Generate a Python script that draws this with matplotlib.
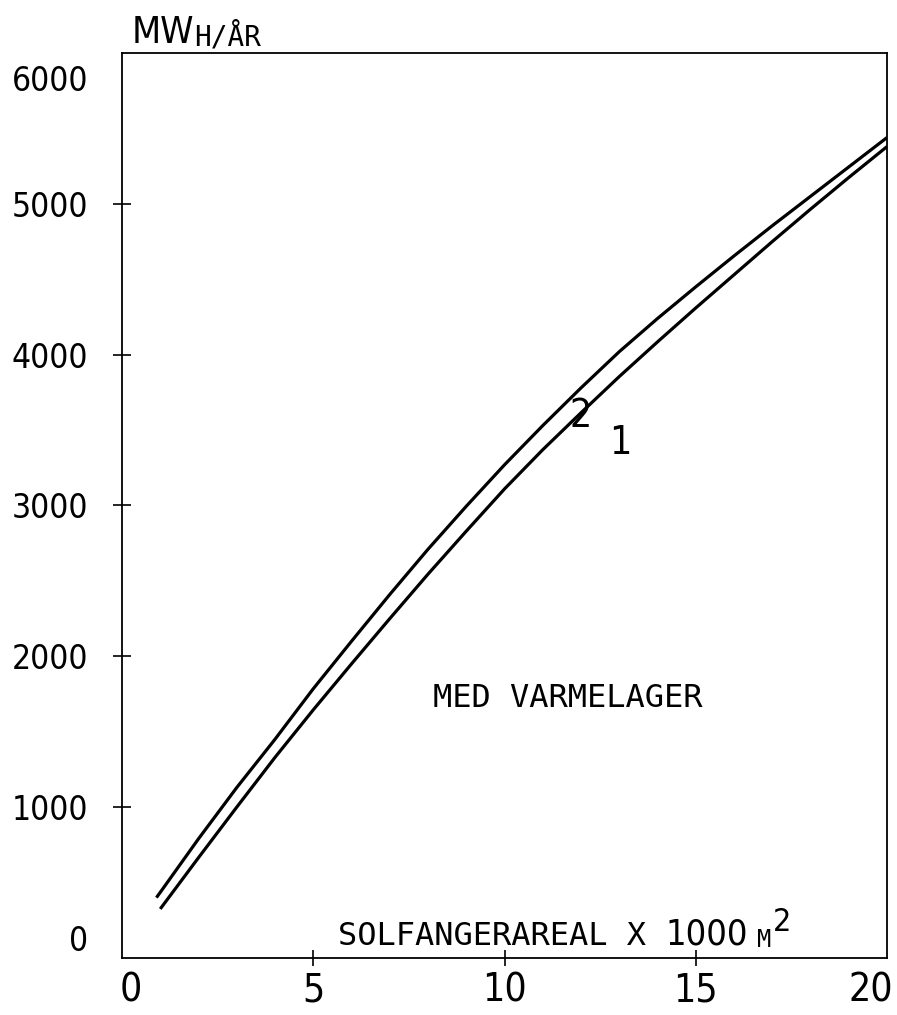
import matplotlib
matplotlib.use("Agg")
import matplotlib.pyplot as plt
import matplotlib.transforms as mtransforms
from matplotlib import font_manager

# solfangerareal (x 1000 m2) og energi (MWh/aar), aflaest fra figuren
areal_2 = [0.9, 1, 2, 3, 4, 5, 6, 7, 8, 9, 10, 11, 12, 13, 14, 15, 16, 17, 18, 19, 20]
mwh_2 = [400, 435, 790, 1130, 1450, 1785, 2100, 2410, 2710, 2995, 3270,
         3530, 3780, 4020, 4240, 4450, 4655, 4855, 5050, 5245, 5440]

areal_1 = [1, 2, 3, 4, 5, 6, 7, 8, 9, 10, 11, 12, 13, 14, 15, 16, 17, 18, 19, 20]
mwh_1 = [325, 665, 1000, 1330, 1645, 1950, 2250, 2545, 2830, 3110,
         3370, 3615, 3855, 4085, 4310, 4530, 4750, 4965, 5175, 5380]

x_ticks = [0, 5, 10, 15, 20]
y_ticks = [0, 1000, 2000, 3000, 4000, 5000, 6000]


def narrow_font():
    # find en smal skrift hvis den findes, ellers Liberation Sans
    for fam, stretch in [("Liberation Sans Narrow", "normal"),
                         ("DejaVu Sans", "condensed")]:
        try:
            fp = font_manager.FontProperties(family=fam, stretch=stretch)
            path = font_manager.findfont(fp, fallback_to_default=False)
            if "Narrow" in path or "Condensed" in path:
                return dict(family=fam, stretch=stretch)
        except Exception:
            pass
    return dict(family="Liberation Sans")


NARROW = narrow_font()
MONO = dict(family="DejaVu Sans Mono")

fig = plt.figure(figsize=(8.97, 10.15), dpi=100)
ax = fig.add_axes([0.136, 0.0562, 0.853, 0.8916])

ax.plot(areal_2, mwh_2, color="black", lw=2.3, solid_capstyle="butt")
ax.plot(areal_1, mwh_1, color="black", lw=2.3, solid_capstyle="butt")

ax.set_xlim(0, 20)
ax.set_ylim(0, 6000)

for s in ax.spines.values():
    s.set_linewidth(1.3)

ax.set_xticks(x_ticks)
ax.set_yticks(y_ticks)
ax.set_xticklabels([str(v) for v in x_ticks], fontsize=28, **NARROW)
ax.set_yticklabels([str(v) for v in y_ticks], fontsize=24, **NARROW)
ax.tick_params(axis="x", direction="inout", length=12, width=1.2, pad=4)
ax.tick_params(axis="y", direction="inout", length=13, width=1.2, pad=18)

# ingen streger i hjoernerne
for axis in (ax.xaxis, ax.yaxis):
    ticks = axis.get_major_ticks()
    ticks[0].tick1line.set_visible(False)
    ticks[-1].tick1line.set_visible(False)


def shift(label, dx, dy):
    label.set_transform(label.get_transform()
                        + mtransforms.ScaledTranslation(dx / 100, dy / 100, fig.dpi_scale_trans))


yt = ax.yaxis.get_major_ticks()
yt[0].label1.set_va("bottom")
yt[-1].label1.set_va("top")
shift(yt[-1].label1, 0, -12)

xt = ax.xaxis.get_major_ticks()
shift(xt[0].label1, 9, 0)
xt[-1].label1.set_ha("right")
shift(xt[-1].label1, 6, 0)

# kurvenumre
ax.text(12.0, 3590, "2", fontsize=28, ha="center", va="center", **NARROW)
ax.text(13.02, 3414, "1", fontsize=28, ha="center", va="center", **NARROW)

ax.text(11.66, 1717, "MED VARMELAGER", fontsize=23, ha="center", va="center", **MONO)

# x-aksens tekst
t1 = ax.text(0.282, 0.0144, "SOLFANGERAREAL X ", fontsize=23,
             transform=ax.transAxes, ha="left", va="baseline", **MONO)
t2 = ax.annotate("1000", xy=(1, 0), xycoords=t1, fontsize=26,
                 ha="left", va="bottom", **NARROW)
t3 = ax.annotate("M", xy=(1, 0), xycoords=t2, xytext=(7, 0), textcoords="offset points",
                 fontsize=17, ha="left", va="bottom", **MONO)
ax.annotate("2", xy=(1, 0), xycoords=t3, xytext=(1, 10), textcoords="offset points",
            fontsize=23, ha="left", va="bottom", **NARROW)

# y-aksens enhed
u1 = ax.text(0.013, 1.011, "MW", fontsize=27,
             transform=ax.transAxes, ha="left", va="baseline", **NARROW)
ax.annotate("H/ÅR", xy=(1, 0), xycoords=u1, fontsize=20,
            ha="left", va="bottom", **MONO)

fig.savefig("out.png", dpi=100)
